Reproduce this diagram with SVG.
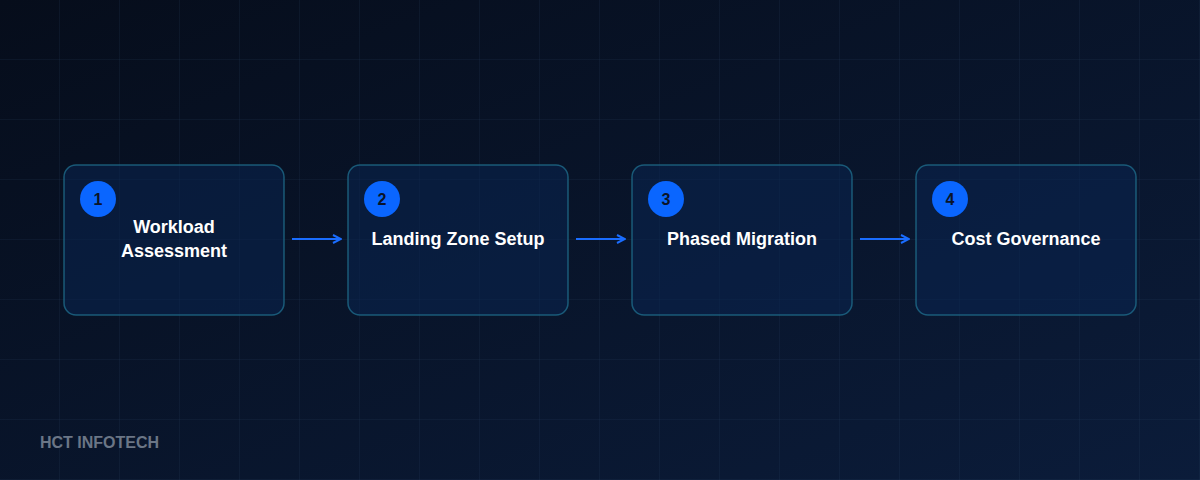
<svg xmlns="http://www.w3.org/2000/svg" width="1200" height="480" viewBox="0 0 1200 480">
  <defs>
    <linearGradient id="bg" x1="0" y1="0" x2="1" y2="1">
      <stop offset="0" stop-color="#060d1b"/>
      <stop offset="1" stop-color="#0b1c3a"/>
    </linearGradient>
    <pattern id="grid" width="60" height="60" patternUnits="userSpaceOnUse">
      <path d="M60 0 V60 M0 60 H60" fill="none" stroke="#2a4a6a" stroke-opacity="0.3" stroke-width="1"/>
    </pattern>
    <marker id="arrow" viewBox="0 0 10 10" refX="9" refY="5" markerWidth="10" markerHeight="10" markerUnits="userSpaceOnUse" orient="auto">
      <path d="M1 1 L9 5 L1 9" fill="none" stroke="#1a6dff" stroke-width="2"/>
    </marker>
  </defs>
  <style>
    .box { fill: #0a2450; fill-opacity: 0.55; stroke: #1e6a8a; stroke-opacity: 0.8; stroke-width: 1.5; }
    .badge { fill: #0a66ff; }
    .num { font-family: "Liberation Sans", Arial, sans-serif; font-weight: bold; font-size: 16px; fill: #0a1428; text-anchor: middle; }
    .label { font-family: "Liberation Sans", Arial, sans-serif; font-weight: bold; font-size: 18px; fill: #ffffff; text-anchor: middle; }
    .conn { stroke: #1a6dff; stroke-width: 2; fill: none; }
    .brand { font-family: "Liberation Sans", Arial, sans-serif; font-weight: bold; font-size: 16px; fill: #6b7686; }
  </style>
  <rect width="1200" height="480" fill="url(#bg)"/>
  <rect width="1200" height="480" fill="url(#grid)"/>

  <g id="connectors">
    <line class="conn" x1="292" y1="239" x2="341" y2="239" marker-end="url(#arrow)"/>
    <line class="conn" x1="576" y1="239" x2="625" y2="239" marker-end="url(#arrow)"/>
    <line class="conn" x1="860" y1="239" x2="909" y2="239" marker-end="url(#arrow)"/>
  </g>

  <g id="node1">
    <rect class="box" x="64" y="165" width="220" height="150" rx="12"/>
    <circle class="badge" cx="98" cy="199" r="18"/>
    <text class="num" x="98" y="205">1</text>
    <text class="label" x="174" y="233">Workload</text>
    <text class="label" x="174" y="257">Assessment</text>
  </g>
  <g id="node2">
    <rect class="box" x="348" y="165" width="220" height="150" rx="12"/>
    <circle class="badge" cx="382" cy="199" r="18"/>
    <text class="num" x="382" y="205">2</text>
    <text class="label" x="458" y="245">Landing Zone Setup</text>
  </g>
  <g id="node3">
    <rect class="box" x="632" y="165" width="220" height="150" rx="12"/>
    <circle class="badge" cx="666" cy="199" r="18"/>
    <text class="num" x="666" y="205">3</text>
    <text class="label" x="742" y="245">Phased Migration</text>
  </g>
  <g id="node4">
    <rect class="box" x="916" y="165" width="220" height="150" rx="12"/>
    <circle class="badge" cx="950" cy="199" r="18"/>
    <text class="num" x="950" y="205">4</text>
    <text class="label" x="1026" y="245">Cost Governance</text>
  </g>

  <text class="brand" x="40" y="448">HCT INFOTECH</text>
</svg>
